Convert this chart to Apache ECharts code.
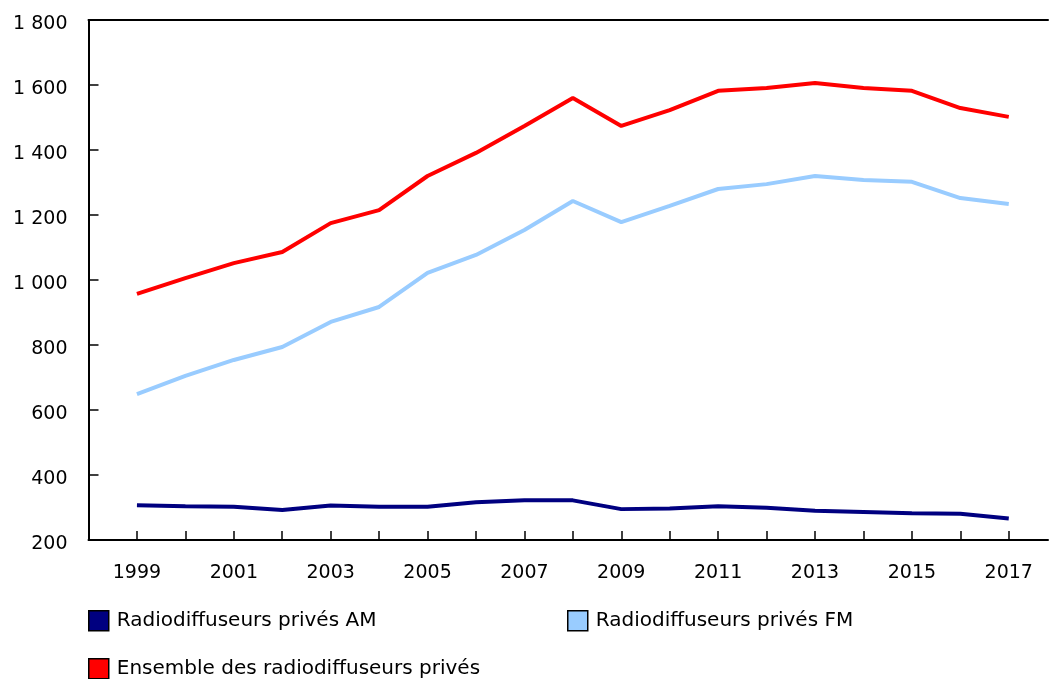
<!DOCTYPE html>
<html>
<head>
<meta charset="utf-8">
<script src="https://cdn.jsdelivr.net/npm/echarts@6/dist/echarts.min.js"></script>
<style>
  html, body { margin: 0; padding: 0; background: #fff; }
  #main { width: 1050px; height: 679px; }
</style>
</head>
<body>
<div id="main"></div>
<script>
// années et séries
var years = [1999, 2000, 2001, 2002, 2003, 2004, 2005, 2006, 2007, 2008,
             2009, 2010, 2011, 2012, 2013, 2014, 2015, 2016, 2017];
var yearLabels = [1999, 2001, 2003, 2005, 2007, 2009, 2011, 2013, 2015, 2017];
var amValues = [307, 304, 302, 292, 306, 302, 302, 316, 322, 322,
                295, 297, 304, 299, 290, 286, 282, 281, 266];
var fmValues = [649, 705, 754, 794, 871, 917, 1022, 1077, 1154, 1243,
                1178, 1228, 1280, 1295, 1320, 1308, 1302, 1252, 1234];
var totalValues = [957, 1006, 1052, 1086, 1175, 1215, 1320, 1391, 1474, 1560,
                   1474, 1523, 1582, 1591, 1606, 1591, 1582, 1529, 1502];
var names = ["Radiodiffuseurs privés AM", "Radiodiffuseurs privés FM",
             "Ensemble des radiodiffuseurs privés"];
var colors = ["#000080", "#99CCFF", "#FF0000"];

var font = "DejaVu Sans, Verdana, sans-serif";

function pairs(vals) {
  return years.map(function (y, i) { return [y, vals[i]]; });
}

function legendAt(name, left, top) {
  return {
    data: [name],
    left: left,
    top: top,
    padding: 0,
    icon: "rect",
    itemWidth: 20,
    itemHeight: 20,
    itemGap: 8,
    itemStyle: { borderColor: "#000", borderWidth: 1.5 },
    textStyle: { fontFamily: font, fontSize: 20, color: "#000", padding: [0, 0, 0, 3] }
  };
}

var myChart = echarts.init(document.getElementById("main"));
myChart.setOption({
  animation: false,
  grid: { left: 88.5, right: 2, top: 20, bottom: 139 },
  legend: [
    legendAt(names[0], 88, 610),
    legendAt(names[1], 567, 610),
    legendAt(names[2], 88, 658)
  ],
  xAxis: [
    {
      type: "value",
      min: 1998,
      max: 2017.81,
      axisLine: { lineStyle: { color: "#000", width: 2 } },
      axisTick: { inside: true, length: 9, customValues: years,
                  lineStyle: { color: "#000", width: 1.5 } },
      axisLabel: {
        margin: 24,
        fontFamily: font,
        fontSize: 19,
        color: "#000",
        customValues: yearLabels,
        formatter: function (v) { return String(v); }
      },
      splitLine: { show: false }
    },
    {
      type: "value",
      position: "top",
      min: 1998,
      max: 2017.81,
      axisLine: { show: true, lineStyle: { color: "#000", width: 2 } },
      axisTick: { show: false },
      axisLabel: { show: false },
      splitLine: { show: false }
    }
  ],
  yAxis: {
    type: "value",
    min: 200,
    max: 1800,
    interval: 200,
    axisLine: { show: true, lineStyle: { color: "#000", width: 2 } },
    axisTick: { show: true, inside: true, length: 10, lineStyle: { color: "#000", width: 1.5 } },
    axisLabel: {
      margin: 21,
      fontFamily: font,
      fontSize: 19,
      color: "#000",
      // labels sit a little below their tick, as in the source
      verticalAlign: "top",
      lineHeight: 8,
      formatter: function (v) { return String(v).replace(/\B(?=(\d{3})+(?!\d))/g, " "); }
    },
    splitLine: { show: false }
  },
  series: [
    { name: names[0], type: "line", data: pairs(amValues), showSymbol: false,
      lineStyle: { color: colors[0], width: 4 }, itemStyle: { color: colors[0] } },
    { name: names[1], type: "line", data: pairs(fmValues), showSymbol: false,
      lineStyle: { color: colors[1], width: 4 }, itemStyle: { color: colors[1] } },
    { name: names[2], type: "line", data: pairs(totalValues), showSymbol: false,
      lineStyle: { color: colors[2], width: 4 }, itemStyle: { color: colors[2] } }
  ]
});
</script>
</body>
</html>
